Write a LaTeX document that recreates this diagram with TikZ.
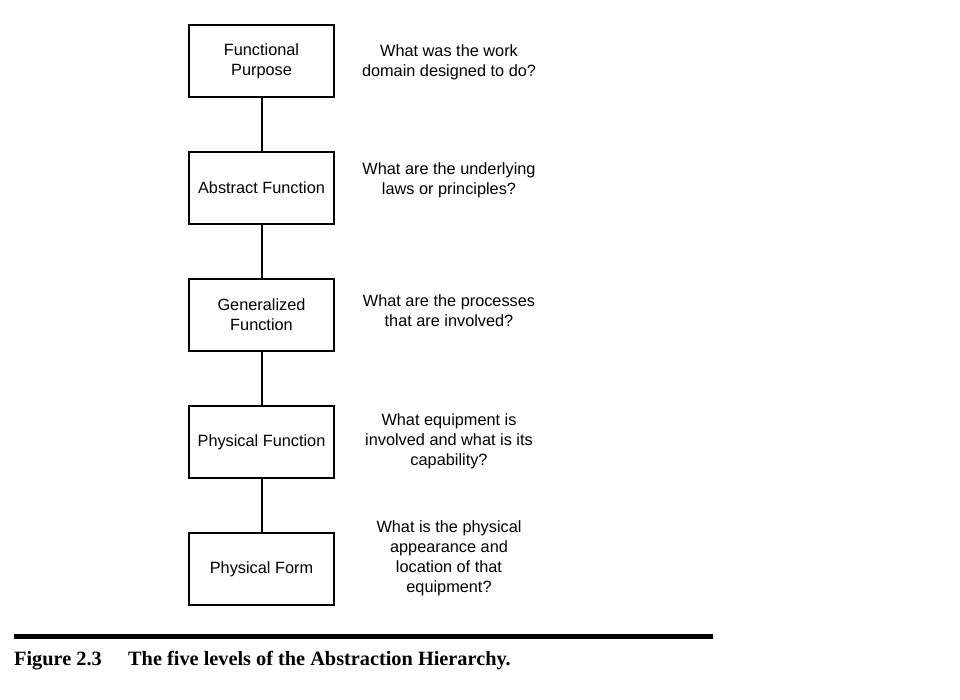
\documentclass[tikz,border=0pt]{standalone}
\usepackage{fontspec}
\setmainfont{Liberation Sans}
\newfontfamily\capfont{Liberation Serif}
\usetikzlibrary{positioning}
\begin{document}
\begin{tikzpicture}[x=1pt,y=-1pt]

\tikzset{level/.style = {shape=rectangle,draw,line width=1.5pt,minimum width=145pt,minimum height=72pt,inner sep=2pt,align=center,font=\fontsize{16.3}{20}\selectfont}}
\tikzset{question/.style = {align=center,font=\fontsize{16.3}{20}\selectfont}}
\tikzset{link/.style = {line width=2pt}}
\useasboundingbox (0,0) rectangle (960,700);
% levels
\node[level] (fp) at (261.5,61) {Functional\\Purpose};
\node[level] (af) at (261.5,188) {Abstract Function};
\node[level] (gf) at (261.5,315) {Generalized\\Function};
\node[level] (pf) at (261.5,442) {Physical Function};
\node[level] (pform) at (261.5,569) {Physical Form};
% questions
\node[question] (q1) at (449,62) {What was the work\\domain designed to do?};
\node[question] (q2) at (449,180) {What are the underlying\\laws or principles?};
\node[question] (q3) at (449,311) {What are the processes\\that are involved?};
\node[question] (q4) at (449,441) {What equipment is\\involved and what is its\\capability?};
\node[question] (q5) at (449,558) {What is the physical\\appearance and\\location of that\\equipment?};
% links
\draw[link] (fp) -- (af);
\draw[link] (af) -- (gf);
\draw[link] (gf) -- (pf);
\draw[link] (pf) -- (pform);
% caption
\coordinate (rl) at (14,636);
\coordinate (rr) at (713,636);
\draw[line width=5pt] (rl) -- (rr);
\node[anchor=west,font=\capfont\bfseries\fontsize{20.3}{22}\selectfont,inner sep=0pt] (fig) at (14,661) {Figure 2.3};
\node[anchor=west,font=\capfont\bfseries\fontsize{20.3}{22}\selectfont,inner sep=0pt] (cap) at (128,661) {The five levels of the Abstraction Hierarchy.};
\end{tikzpicture}
\end{document}
